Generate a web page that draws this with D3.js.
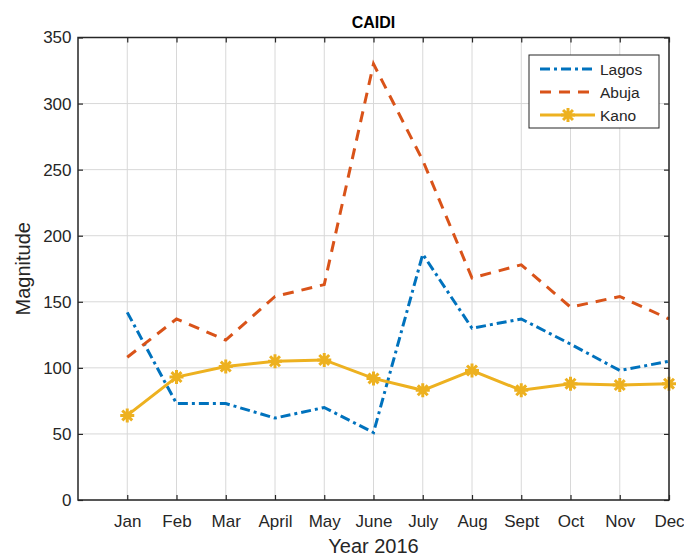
<!DOCTYPE html>
<html>
  <head>
    <meta charset="utf-8">
    <title>CAIDI</title>
    <script src="https://d3js.org/d3.v7.min.js"></script>
    <style>
      body { margin: 0; background: #fff; }
      text { font-family: "Liberation Sans", Arial, sans-serif; fill: #262626; }
    </style>
  </head>
  <body>
    <div id="chart"></div>
    <script>
      const months = ["Jan", "Feb", "Mar", "April", "May", "June", "July", "Aug", "Sept", "Oct", "Nov", "Dec"];
      const lagos = [142, 73, 73, 62, 70, 51, 186, 130, 137, 118, 98, 105];
      const abuja = [108, 137, 121, 154, 163, 330, 257, 168, 178, 146, 154, 137];
      const kano = [64, 93, 101, 105, 106, 92, 83, 98, 83, 88, 87, 88];
      const yTicks = [0, 50, 100, 150, 200, 250, 300, 350];

      const series = [
        { name: "Lagos", values: lagos, color: "#0072BD", dash: "10,4,3,4" },
        { name: "Abuja", values: abuja, color: "#D95319", dash: "11,8" },
        { name: "Kano", values: kano, color: "#EDB120", dash: null, marker: true }
      ];

      const W = 684, H = 557;
      const svg = d3.select("#chart")
        .append("svg")
        .attr("width", W)
        .attr("height", H);

      const pL = 78, pR = 669, pT = 37.5, pB = 500;

      const x = d3.scaleLinear()
        .domain([0, 12])
        .range([pL, pR]);
      const y = d3.scaleLinear()
        .domain([0, 350])
        .range([pB, pT]);

      // grid
      svg.append("g").selectAll("line")
        .data(months)
        .join("line")
        .attr("x1", (d, i) => x(i + 1)).attr("x2", (d, i) => x(i + 1))
        .attr("y1", pT).attr("y2", pB)
        .attr("stroke", "#d8d8d8").attr("stroke-width", 1);
      svg.append("g").selectAll("line")
        .data(yTicks)
        .join("line")
        .attr("x1", pL).attr("x2", pR)
        .attr("y1", d => y(d)).attr("y2", d => y(d))
        .attr("stroke", "#d8d8d8").attr("stroke-width", 1);

      // axes (MATLAB style: ticks inside, all four sides)
      const tl = 5;
      const xAxisB = d3.axisBottom(x).tickValues(d3.range(1, 13)).tickSizeInner(-tl).tickSizeOuter(0)
        .tickFormat(d => months[d - 1]).tickPadding(14.5);
      const xAxisT = d3.axisTop(x).tickValues(d3.range(1, 13)).tickSizeInner(-tl).tickSizeOuter(0).tickFormat("");
      const yAxisL = d3.axisLeft(y).tickValues(yTicks).tickSizeInner(-tl).tickSizeOuter(0).tickPadding(6.5);
      const yAxisR = d3.axisRight(y).tickValues(yTicks).tickSizeInner(-tl).tickSizeOuter(0).tickFormat("");

      const axes = [
        svg.append("g").attr("transform", `translate(0,${pB})`).call(xAxisB),
        svg.append("g").attr("transform", `translate(0,${pT})`).call(xAxisT),
        svg.append("g").attr("transform", `translate(${pL},0)`).call(yAxisL),
        svg.append("g").attr("transform", `translate(${pR},0)`).call(yAxisR)
      ];
      axes.forEach(g => {
        g.select(".domain").remove();
        g.selectAll(".tick line").attr("stroke", "#262626").attr("stroke-width", 1.2);
        g.selectAll(".tick text").attr("font-size", 17).attr("fill", "#262626")
          .style("font-family", "'Liberation Sans', Arial, sans-serif");
      });

      // data lines
      const line = d3.line()
        .x((d, i) => x(i + 1))
        .y(d => y(d));

      series.forEach(s => {
        svg.append("path")
          .datum(s.values)
          .attr("d", line)
          .attr("fill", "none")
          .attr("stroke", s.color)
          .attr("stroke-width", 3)
          .attr("stroke-dasharray", s.dash)
          .attr("stroke-linejoin", "miter");
      });

      // asterisk markers
      const star = r => {
        const a = r * 0.7071;
        return `M${-r},0L${r},0M0,${-r}L0,${r}M${-a},${-a}L${a},${a}M${-a},${a}L${a},${-a}`;
      };
      svg.append("g").selectAll("path")
        .data(kano)
        .join("path")
        .attr("transform", (d, i) => `translate(${x(i + 1)},${y(d)})`)
        .attr("d", star(7))
        .attr("fill", "none")
        .attr("stroke", "#EDB120")
        .attr("stroke-width", 3);

      // box
      svg.append("rect")
        .attr("x", pL).attr("y", pT)
        .attr("width", pR - pL).attr("height", pB - pT)
        .attr("fill", "none").attr("stroke", "#262626").attr("stroke-width", 1.5);

      // title and labels
      svg.append("text")
        .attr("x", (pL + pR) / 2).attr("y", 28)
        .attr("text-anchor", "middle")
        .attr("font-size", 16).attr("font-weight", "bold")
        .style("fill", "#000")
        .text("CAIDI");
      svg.append("text")
        .attr("x", (pL + pR) / 2).attr("y", 553)
        .attr("text-anchor", "middle")
        .attr("font-size", 20)
        .text("Year 2016");
      svg.append("text")
        .attr("transform", `translate(30,${(pT + pB) / 2}) rotate(-90)`)
        .attr("text-anchor", "middle")
        .attr("font-size", 20)
        .text("Magnitude");

      // legend
      const lg = svg.append("g");
      lg.append("rect")
        .attr("x", 529).attr("y", 55)
        .attr("width", 130).attr("height", 73)
        .attr("fill", "#fff").attr("stroke", "#262626").attr("stroke-width", 1);
      series.forEach((s, i) => {
        const ly = 69 + i * 23;
        lg.append("line")
          .attr("x1", 540).attr("x2", 595)
          .attr("y1", ly).attr("y2", ly)
          .attr("stroke", s.color).attr("stroke-width", 3)
          .attr("stroke-dasharray", s.dash);
        if (s.marker) {
          lg.append("path")
            .attr("transform", `translate(568,${ly})`)
            .attr("d", star(7))
            .attr("fill", "none").attr("stroke", s.color).attr("stroke-width", 3);
        }
        lg.append("text")
          .attr("x", 600).attr("y", ly + 6)
          .attr("font-size", 15.5)
          .text(s.name);
      });
    </script>
  </body>
</html>
